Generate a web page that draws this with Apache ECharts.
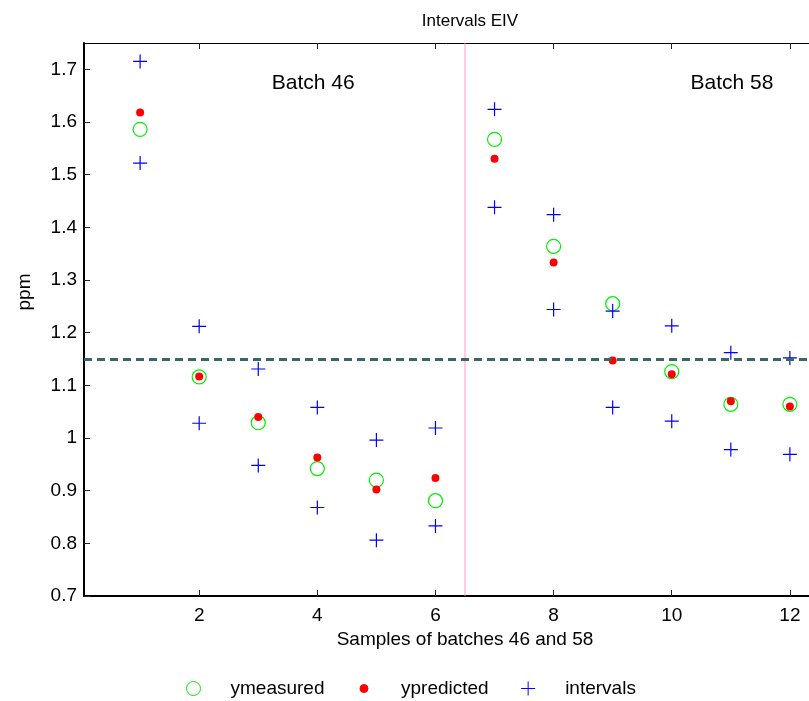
<!DOCTYPE html>
<html>
<head>
<meta charset="utf-8">
<script src="https://cdn.jsdelivr.net/npm/echarts@6/dist/echarts.min.js"></script>
<style>
  html, body { margin: 0; padding: 0; background: #fff; }
  #chart { width: 809px; height: 701px; }
</style>
</head>
<body>
<div id="chart"></div>
<script>
// sample numbers (batch 46: 1-6, batch 58: 7-12)
const samples = [1, 2, 3, 4, 5, 6, 7, 8, 9, 10, 11, 12]
const ymeasured = [1.586, 1.116, 1.029, 0.942, 0.920, 0.881, 1.567, 1.364, 1.255, 1.126, 1.064, 1.064]
const ypredicted = [1.618, 1.117, 1.040, 0.963, 0.902, 0.924, 1.530, 1.333, 1.147, 1.121, 1.070, 1.060]
const intervalUpper = [1.715, 1.212, 1.131, 1.058, 0.996, 1.019, 1.624, 1.424, 1.241, 1.213, 1.162, 1.152]
const intervalLower = [1.522, 1.028, 0.948, 0.868, 0.806, 0.833, 1.438, 1.244, 1.058, 1.032, 0.978, 0.969]
const xTicks = [2, 4, 6, 8, 10, 12]
const yTicks = [0.7, 0.8, 0.9, 1, 1.1, 1.2, 1.3, 1.4, 1.5, 1.6, 1.7]
const referenceLevel = 1.152
const batchSplit = 6.5
const batchLabels = [
  { name: 'Batch 46', coord: [3.93, 1.674] },
  { name: 'Batch 58', coord: [11.02, 1.674] }
]

const font = 'Arial, "Liberation Sans", Helvetica, sans-serif'
const plusPath = 'path://M0,7 L14,7 M7,0 L7,14'
const dotIcon = 'path://M0,0 M14,14 M11,7 A4,4 0 1 1 3,7 A4,4 0 1 1 11,7 Z'

const pairs = (ys) => samples.map((x, i) => [x, ys[i]])

const chart = echarts.init(document.getElementById('chart'))
const option = {
  animation: false,
  backgroundColor: '#fff',
  textStyle: { fontFamily: font },
  title: {
    text: 'Intervals EIV',
    left: 465,
    textAlign: 'center',
    top: 8,
    textStyle: { fontFamily: font, fontSize: 17, fontWeight: 'normal', color: '#000' }
  },
  // legend below the axes, symbol far from its text like matlab
  legend: {
    left: 181,
    top: 674,
    itemWidth: 20,
    itemHeight: 14,
    itemGap: 32,
    selectedMode: false,
    itemStyle: { borderWidth: 1 },
    textStyle: { fontFamily: font, fontSize: 19, color: '#000', padding: [0, 0, 0, 22] },
    data: [
      { name: 'ymeasured', icon: 'circle' },
      { name: 'ypredicted', icon: dotIcon },
      { name: 'intervals', icon: plusPath }
    ]
  },
  // the matlab axes box runs past the right edge of the picture
  grid: {
    left: 84,
    top: 43,
    width: 762,
    bottom: 105,
    outerBoundsMode: 'none'
  },
  xAxis: [
    {
      type: 'value',
      min: 0.05,
      max: 12.95,
      name: 'Samples of batches 46 and 58',
      nameLocation: 'middle',
      nameGap: 34,
      nameTextStyle: { fontFamily: font, fontSize: 19, color: '#000' },
      axisLine: { show: true, onZero: false, lineStyle: { color: '#000', width: 2 } },
      axisTick: { show: true, inside: true, length: 6, customValues: xTicks, lineStyle: { color: '#222' } },
      axisLabel: { customValues: xTicks, fontFamily: font, fontSize: 19, color: '#000', margin: 10 },
      splitLine: { show: false }
    },
    {
      type: 'value',
      position: 'top',
      min: 0.05,
      max: 12.95,
      axisLine: { show: true, onZero: false, lineStyle: { color: '#000', width: 1 } },
      axisTick: { show: true, inside: true, length: 6, customValues: xTicks, lineStyle: { color: '#222' } },
      axisLabel: { show: false },
      splitLine: { show: false }
    }
  ],
  yAxis: {
    type: 'value',
    min: 0.7,
    max: 1.75,
    axisLine: { show: true, onZero: false, lineStyle: { color: '#000', width: 2 } },
    axisTick: { show: true, inside: true, length: 6, customValues: yTicks, lineStyle: { color: '#222' } },
    axisLabel: { customValues: yTicks, fontFamily: font, fontSize: 19, color: '#000', margin: 7 },
    splitLine: { show: false }
  },
  graphic: [
    {
      type: 'text',
      x: 25,
      y: 292,
      rotation: Math.PI / 2,
      style: {
        text: 'ppm',
        fill: '#000',
        font: '19px ' + font,
        align: 'center',
        verticalAlign: 'middle'
      }
    }
  ],
  series: [
    {
      // split line + dashed reference level + batch labels
      type: 'scatter',
      name: 'guides',
      data: [],
      silent: true,
      markLine: {
        silent: true,
        symbol: 'none',
        label: { show: false },
        data: [
          { xAxis: batchSplit, lineStyle: { color: '#ff8fc0', width: 1.5, type: 'solid', opacity: 0.6 } },
          { yAxis: referenceLevel, lineStyle: { color: '#3a6666', width: 3, type: [8, 5], opacity: 1 } }
        ]
      },
      markPoint: {
        silent: true,
        symbol: 'circle',
        symbolSize: 0,
        label: {
          show: true,
          position: 'inside',
          formatter: '{b}',
          fontFamily: font,
          fontSize: 21,
          color: '#000'
        },
        data: batchLabels
      }
    },
    {
      type: 'scatter',
      name: 'ymeasured',
      symbol: 'circle',
      symbolSize: 14,
      itemStyle: { color: 'rgba(0,0,0,0)', borderColor: '#00ee00', borderWidth: 1.2, opacity: 1 },
      data: pairs(ymeasured)
    },
    {
      type: 'scatter',
      name: 'ypredicted',
      symbol: 'circle',
      symbolSize: 8,
      itemStyle: { color: '#ff0000', borderColor: '#ff0000', borderWidth: 0, opacity: 1 },
      data: pairs(ypredicted)
    },
    {
      type: 'scatter',
      name: 'intervals',
      symbol: plusPath,
      symbolSize: 14,
      itemStyle: { color: 'rgba(0,0,0,0)', borderColor: '#0000ff', borderWidth: 1.2, opacity: 1 },
      data: pairs(intervalUpper).concat(pairs(intervalLower))
    }
  ]
}
chart.setOption(option)
</script>
</body>
</html>
